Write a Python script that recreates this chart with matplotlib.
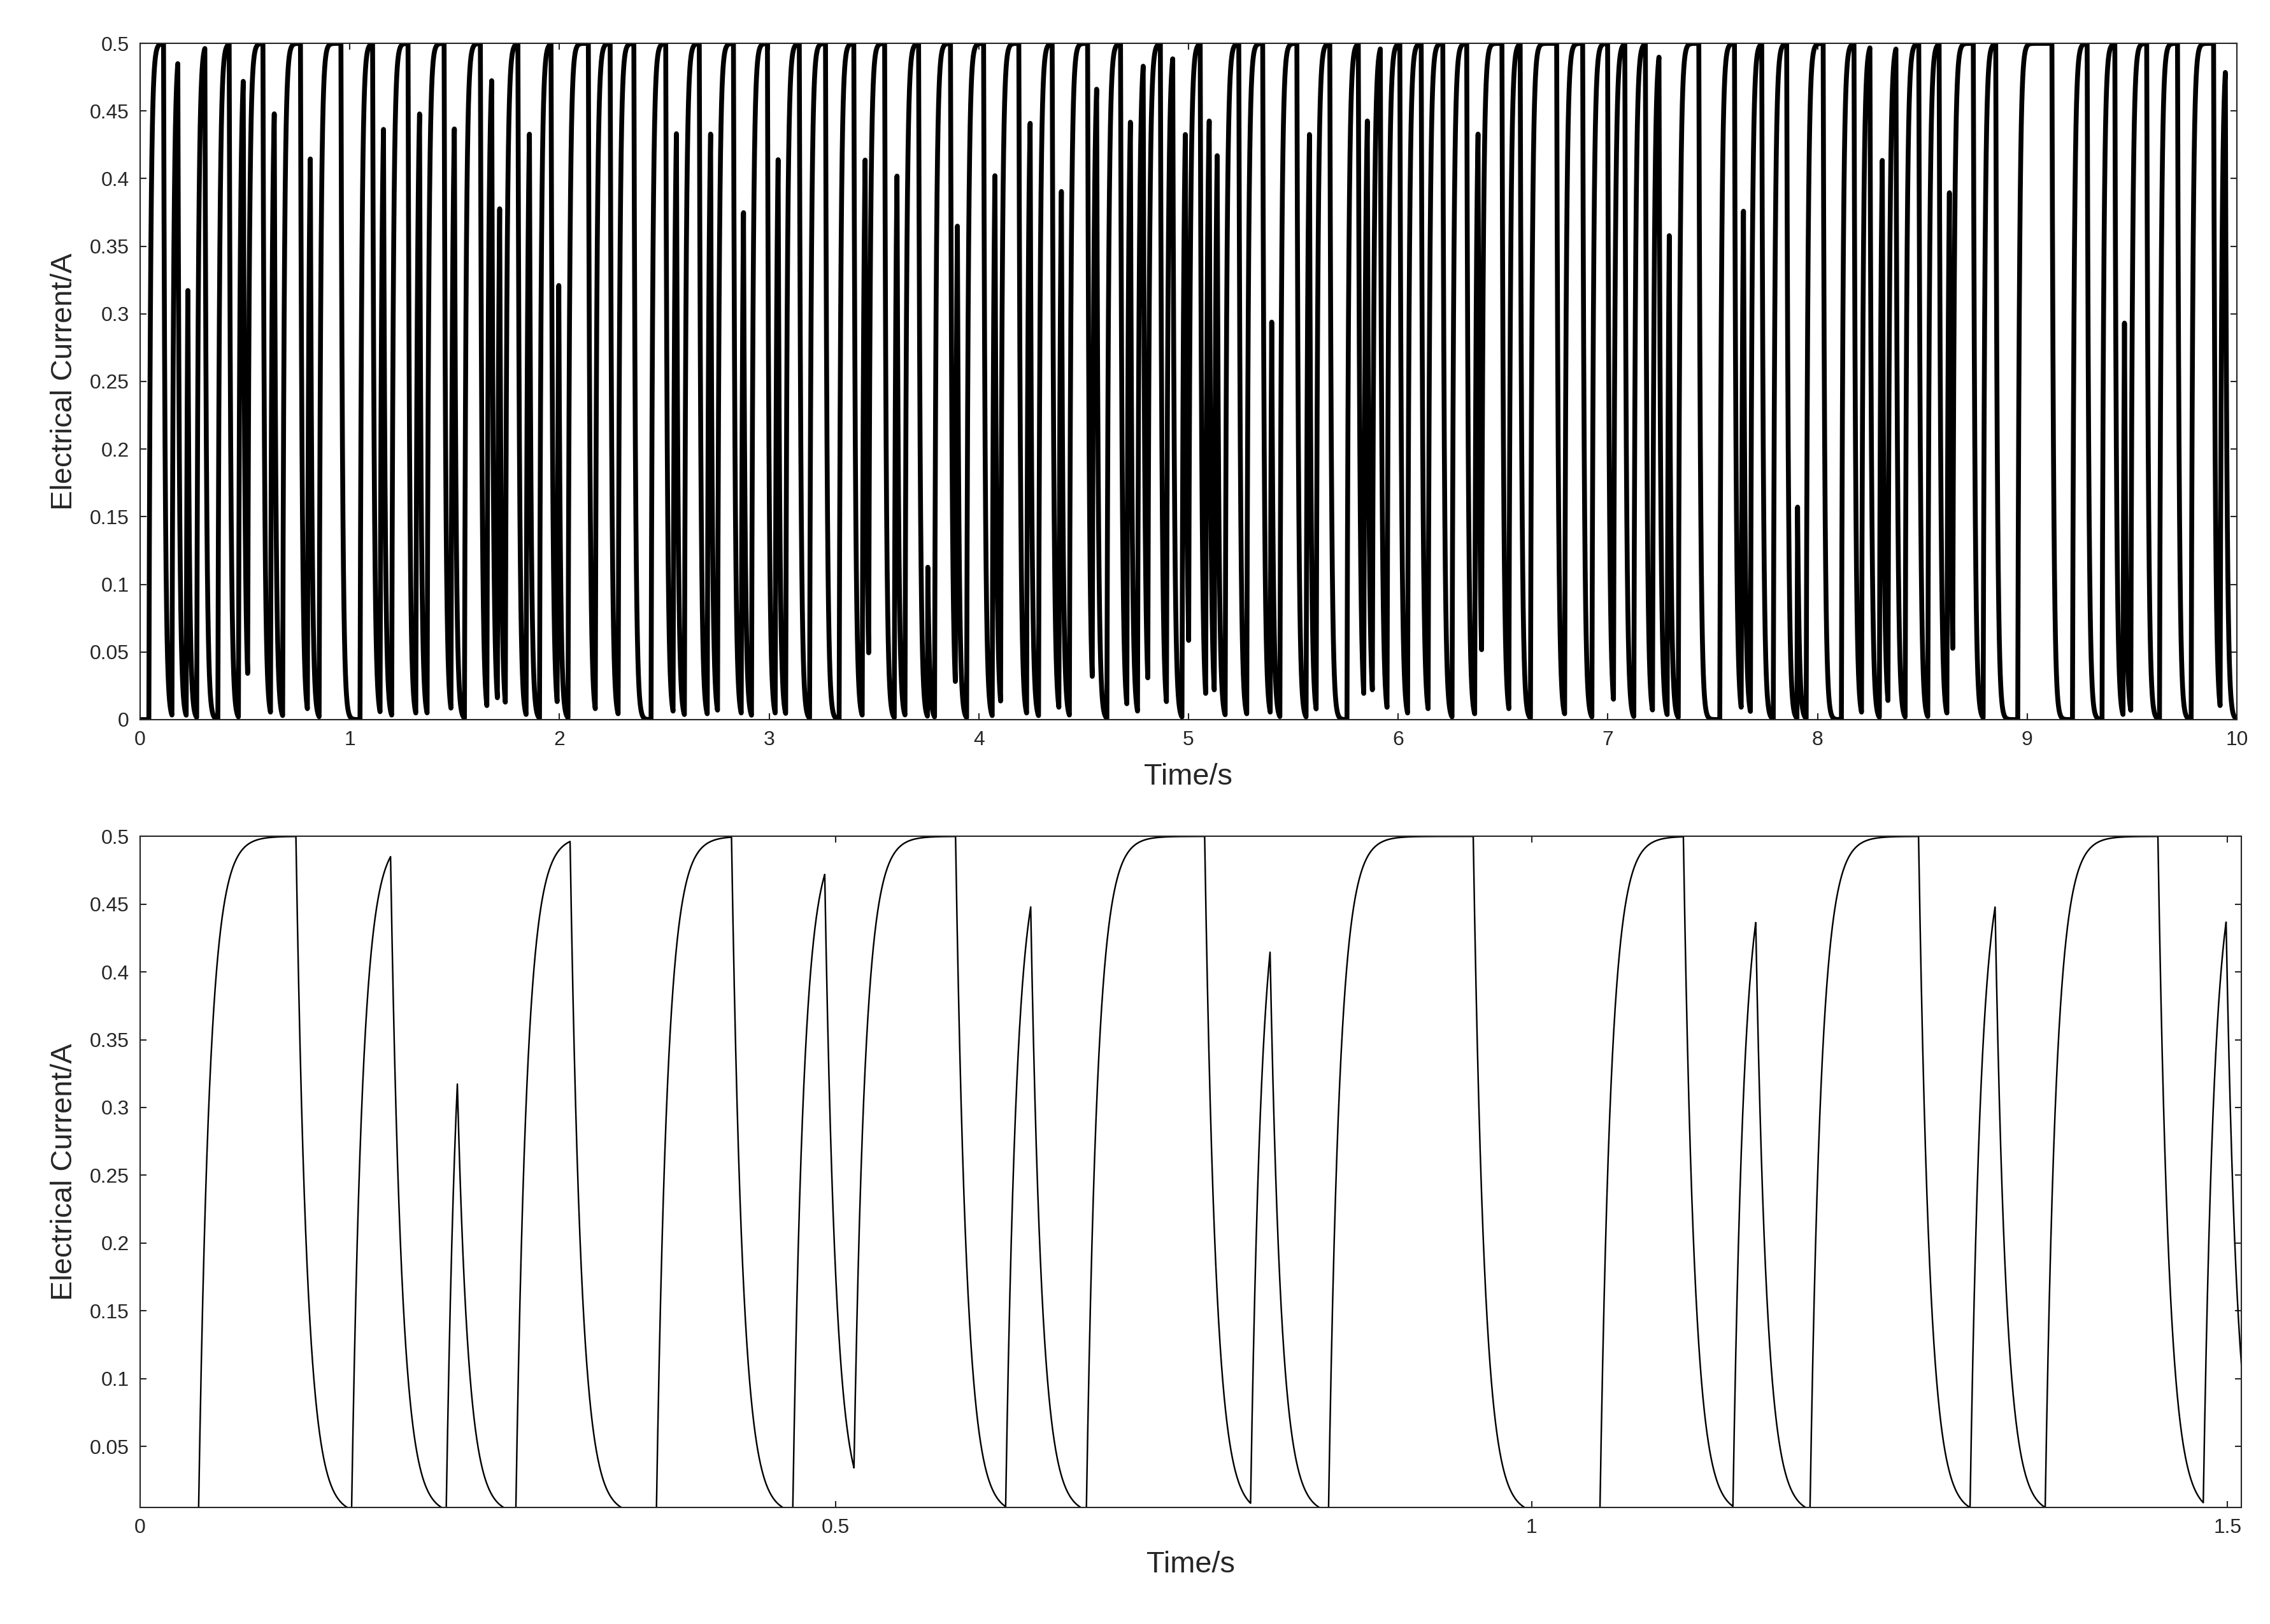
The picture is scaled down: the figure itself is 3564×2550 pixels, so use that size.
import numpy as np
import matplotlib
matplotlib.use("Agg")
import matplotlib.pyplot as plt

plt.rcParams['font.family'] = ['Liberation Sans', 'DejaVu Sans']

# switching events: source ON times and OFF times (s)
on_times = [0.042, 0.152, 0.220, 0.270, 0.371, 0.469, 0.513, 0.622, 0.680, 0.798,
            0.854, 1.049, 1.1446, 1.200, 1.315, 1.369, 1.4826,
            1.547, 1.654, 1.704, 1.742, 1.841, 1.905, 1.989, 2.041, 2.171, 2.280,
            2.437, 2.542, 2.596, 2.705, 2.754, 2.867, 2.916, 3.029, 3.079, 3.193,
            3.334, 3.444, 3.475, 3.597, 3.648, 3.755, 3.789, 3.888, 3.942, 4.064,
            4.104, 4.228, 4.285, 4.382, 4.432, 4.541, 4.611, 4.706, 4.757, 4.806,
            4.895, 4.969, 5.001, 5.082, 5.123, 5.175, 5.278, 5.390, 5.436, 5.561,
            5.609, 5.756, 5.836, 5.877, 5.947, 6.045, 6.143, 6.257, 6.365, 6.398,
            6.528, 6.631, 6.794, 6.924, 7.027, 7.124, 7.213, 7.283, 7.336, 7.534,
            7.636, 7.680, 7.789, 7.902, 7.946, 8.114, 8.210, 8.295, 8.336, 8.418,
            8.526, 8.617, 8.645, 8.790, 8.955, 9.216, 9.357, 9.457, 9.494, 9.631,
            9.782, 9.920]
off_times = [0.112, 0.180, 0.228, 0.309, 0.425, 0.492, 0.586, 0.640, 0.765, 0.812,
             0.958, 1.109, 1.161, 1.278, 1.333, 1.450, 1.499,
             1.623, 1.677, 1.715, 1.802, 1.857, 1.960, 1.997, 2.138, 2.242, 2.355,
             2.507, 2.558, 2.667, 2.721, 2.830, 2.878, 2.992, 3.043, 3.144, 3.269,
             3.404, 3.458, 3.551, 3.610, 3.713, 3.757, 3.865, 3.898, 4.023, 4.077,
             4.191, 4.245, 4.350, 4.394, 4.519, 4.562, 4.676, 4.723, 4.784, 4.866,
             4.925, 4.985, 5.056, 5.099, 5.137, 5.240, 5.354, 5.397, 5.517, 5.577,
             5.674, 5.810, 5.853, 5.915, 6.008, 6.110, 6.213, 6.327, 6.381, 6.495,
             6.582, 6.756, 6.880, 6.999, 7.081, 7.179, 7.244, 7.293, 7.434, 7.604,
             7.647, 7.734, 7.853, 7.905, 8.027, 8.174, 8.250, 8.309, 8.374, 8.483,
             8.580, 8.629, 8.743, 8.850, 9.118, 9.286, 9.418, 9.464, 9.570, 9.717,
             9.889, 9.945]

I_max = 0.5      # A
tau = 0.008      # s, RC time constant
dt = 0.0002
t = np.arange(0, 10 + dt, dt)
state = np.zeros_like(t)
for a, b in zip(on_times, off_times):
    state[(t >= a) & (t < b)] = 1.0
k = 1 - np.exp(-dt / tau)
cur = np.zeros_like(t)
for i in range(1, len(t)):
    cur[i] = cur[i-1] + (I_max * state[i-1] - cur[i-1]) * k

fig = plt.figure(figsize=(14.256, 10.2), dpi=250)
ax1 = fig.add_axes([0.0617, 0.5569, 0.9237, 0.4164])
ax2 = fig.add_axes([0.0617, 0.0718, 0.9257, 0.4132])

tick_col = '#262626'
for ax in (ax1, ax2):
    ax.tick_params(direction='in', top=True, right=True, labelsize=9.2,
                   colors=tick_col, length=3, width=0.6, pad=5)
    for s in ax.spines.values():
        s.set_linewidth(0.6)
        s.set_color(tick_col)
    ax.set_xlabel('Time/s', fontsize=13.5, color=tick_col, labelpad=6)
    ax.set_ylabel('Electrical Current/A', fontsize=13.5, color=tick_col, labelpad=5)

ax1.plot(t, cur, color='black', lw=2.2)
ax1.set_xlim(0, 10)
ax1.set_ylim(0, 0.5)
ax1.set_xticks(np.arange(0, 11, 1))
ax1.set_yticks(np.round(np.arange(0, 0.501, 0.05), 2))
ax1.set_yticklabels(['0', '0.05', '0.1', '0.15', '0.2', '0.25', '0.3', '0.35', '0.4', '0.45', '0.5'])

m = t <= 1.52
ax2.plot(t[m], cur[m], color='black', lw=0.7)
ax2.set_xlim(0, 1.51)
ax2.set_ylim(0.005, 0.5)
ax2.set_xticks([0, 0.5, 1, 1.5])
ax2.set_xticklabels(['0', '0.5', '1', '1.5'])
ax2.set_yticks(np.round(np.arange(0.05, 0.501, 0.05), 2))
ax2.set_yticklabels(['0.05', '0.1', '0.15', '0.2', '0.25', '0.3', '0.35', '0.4', '0.45', '0.5'])

fig.savefig('out.png', dpi=250)
